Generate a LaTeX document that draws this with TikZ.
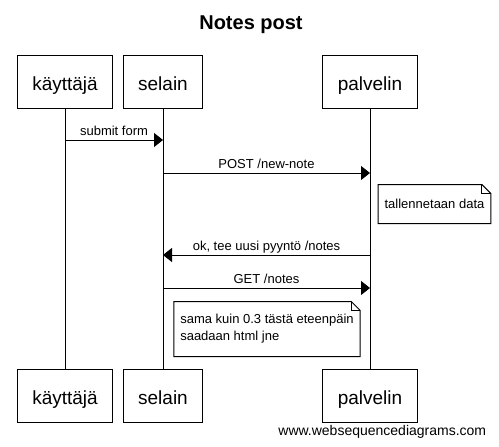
\documentclass[tikz,border=0pt]{standalone}
\usepackage{fontspec}
\setmainfont{Liberation Sans}
\usetikzlibrary{arrows.meta}

\begin{document}
\begin{tikzpicture}[x=1pt,y=-1pt,line width=1pt,
actor/.style={draw,rectangle,inner xsep=15pt,minimum height=53pt,text height=17pt,text depth=0pt,font=\fontsize{19}{23}\selectfont},
msg/.style={-{Triangle[length=9pt,width=14pt]}},
msglabel/.style={above=4pt,inner sep=0pt,text depth=0pt,font=\fontsize{13}{16}\selectfont},
note/.style={inner xsep=6pt,align=left,font=\fontsize{13}{17}\selectfont}]

\useasboundingbox (0,0) rectangle (499,447);

\node[anchor=base,font=\bfseries\fontsize{20}{24}\selectfont] (title) at (251,29) {Notes post};

% actors, top and bottom
\node[actor] (kt) at (65,81.5) {käyttäjä};
\node[actor] (st) at (163,81.5) {selain};
\node[actor] (pt) at (370,81.5) {palvelin};
\node[actor] (kb) at (65,395.5) {käyttäjä};
\node[actor] (sb) at (163,395.5) {selain};
\node[actor] (pb) at (370,395.5) {palvelin};

% lifelines
\draw (kt) -- (kb);
\draw (st) -- (sb);
\draw (pt) -- (pb);

% messages
\draw[msg] (kt |- 0,140) -- (st |- 0,140) node[midway,msglabel] {submit form};
\draw[msg] (st |- 0,173) -- (pt |- 0,173) node[midway,msglabel] {POST /new-note};
\draw[msg] (pt |- 0,255) -- (st |- 0,255) node[midway,msglabel] {ok, tee uusi pyyntö /notes};
\draw[msg] (st |- 0,288) -- (pt |- 0,288) node[midway,msglabel] {GET /notes};

% notes
\node[note,minimum width=109pt,minimum height=38pt] (n1) at (434.5,204) {tallennetaan data};
\draw (n1.north west) -- ([xshift=-9pt]n1.north east) -- ([yshift=-9pt]n1.north east) -- (n1.south east) -- (n1.south west) -- cycle;
\draw ([xshift=-9pt]n1.north east) |- ([yshift=-9pt]n1.north east);

\node[note,minimum width=184pt,minimum height=54pt] (n2) at (267,329) {sama kuin 0.3 tästä eteenpäin\\saadaan html jne};
\draw (n2.north west) -- ([xshift=-9pt]n2.north east) -- ([yshift=-9pt]n2.north east) -- (n2.south east) -- (n2.south west) -- cycle;
\draw ([xshift=-9pt]n2.north east) |- ([yshift=-9pt]n2.north east);

\node[anchor=base east,font=\fontsize{14}{17}\selectfont] (wsd) at (490,435) {www.websequencediagrams.com};

\end{tikzpicture}
\end{document}
